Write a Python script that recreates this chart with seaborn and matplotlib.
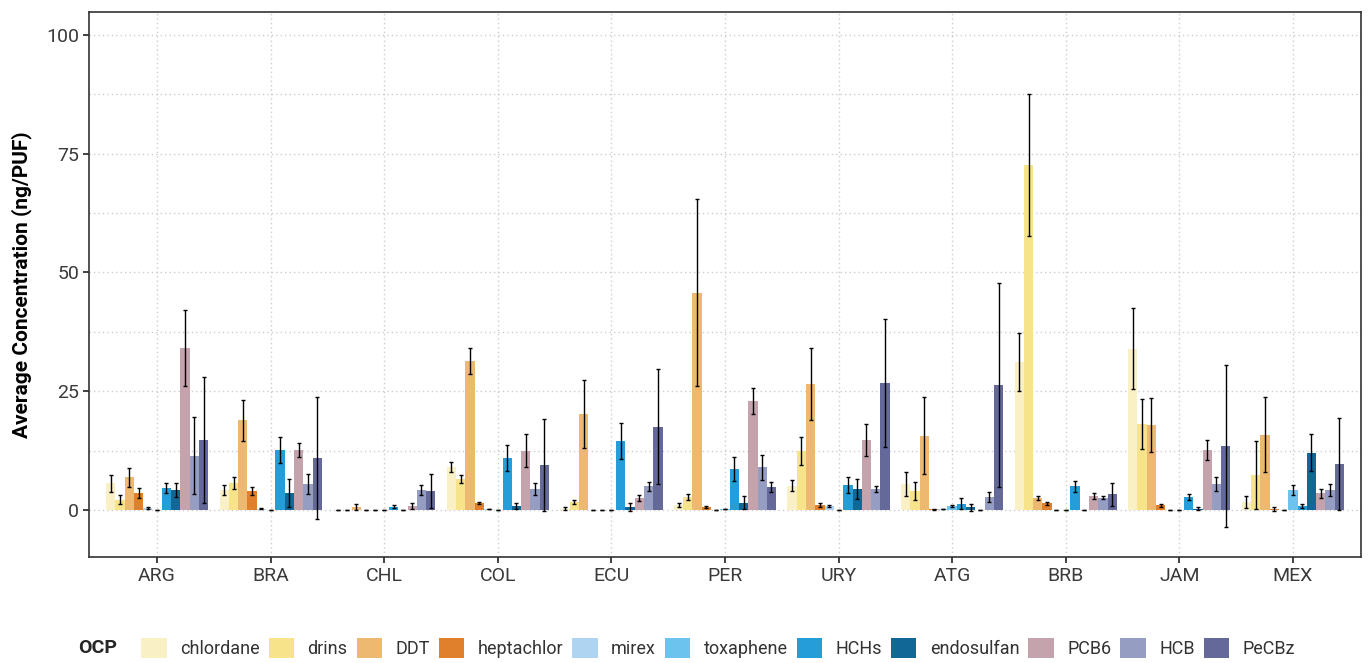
import numpy as np
import pandas as pd
import matplotlib
matplotlib.use("Agg")
import matplotlib.pyplot as plt
from matplotlib.ticker import MultipleLocator
import seaborn as sns

countries = ["ARG", "BRA", "CHL", "COL", "ECU", "PER", "URY", "ATG", "BRB", "JAM", "MEX"]
ocps = ["chlordane", "drins", "DDT", "heptachlor", "mirex", "toxaphene",
        "HCHs", "endosulfan", "PCB6", "HCB", "PeCBz"]
palette = ["#FAF0C6", "#F7E38A", "#EDB971", "#E0802C", "#AED4F1", "#6CC4EE",
           "#249DD9", "#116896", "#C4A3AD", "#959DC3", "#65699A"]

# mean concentration (ng/PUF), one list per OCP, in country order
chlordane  = [5.6, 4.2, 0.0, 9.0, 0.3, 1.0, 5.1, 5.5, 31.2, 33.9, 1.7]
drins      = [2.2, 5.7, 0.0, 6.5, 1.7, 2.7, 12.4, 4.0, 72.6, 18.1, 7.4]
ddt        = [6.9, 18.9, 0.6, 31.4, 20.2, 45.7, 26.5, 15.6, 2.5, 17.9, 15.8]
heptachlor = [3.6, 4.0, 0.0, 1.5, 0.0, 0.6, 1.0, 0.15, 1.4, 1.0, 0.15]
mirex      = [0.5, 0.3, 0.0, 0.1, 0.0, 0.0, 0.8, 0.1, 0.0, 0.0, 0.0]
toxaphene  = [0.0, 0.0, 0.0, 0.0, 0.0, 0.1, 0.0, 0.8, 0.0, 0.0, 4.2]
hchs       = [4.6, 12.6, 0.7, 10.9, 14.5, 8.6, 5.3, 1.3, 5.0, 2.7, 0.8]
endosulfan = [4.2, 3.6, 0.0, 0.8, 0.6, 1.5, 4.4, 0.6, 0.0, 0.3, 12.0]
pcb6       = [34.1, 12.6, 0.8, 12.5, 2.5, 22.9, 14.7, 0.0, 2.9, 12.6, 3.5]
hcb        = [11.4, 5.5, 4.2, 4.4, 5.0, 9.0, 4.4, 2.7, 2.6, 5.5, 4.2]
pecbz      = [14.7, 10.9, 4.0, 9.5, 17.5, 4.8, 26.7, 26.3, 3.3, 13.5, 9.7]

# error (± half-range of the error bar), same layout
chlordane_err  = [1.8, 1.0, 0.0, 1.0, 0.3, 0.4, 1.2, 2.5, 6.1, 8.5, 1.3]
drins_err      = [0.9, 1.3, 0.0, 0.8, 0.4, 0.7, 3.0, 1.9, 14.9, 5.2, 7.1]
ddt_err        = [2.0, 4.3, 0.6, 2.7, 7.1, 19.7, 7.6, 8.1, 0.5, 5.7, 7.9]
heptachlor_err = [1.0, 0.9, 0.0, 0.25, 0.0, 0.17, 0.37, 0.1, 0.38, 0.28, 0.37]
mirex_err      = [0.2, 0.1, 0.0, 0.0, 0.0, 0.0, 0.22, 0.0, 0.0, 0.0, 0.0]
toxaphene_err  = [0.0, 0.0, 0.0, 0.0, 0.0, 0.0, 0.0, 0.25, 0.0, 0.0, 0.95]
hchs_err       = [1.0, 2.7, 0.25, 2.7, 3.8, 2.5, 1.7, 1.2, 1.2, 0.7, 0.4]
endosulfan_err = [1.5, 3.0, 0.0, 0.7, 0.8, 1.35, 2.1, 0.75, 0.0, 0.4, 3.9]
pcb6_err       = [8.0, 1.5, 0.7, 3.4, 0.55, 2.7, 3.4, 0.0, 0.6, 2.1, 1.0]
hcb_err        = [8.1, 2.1, 1.15, 1.2, 0.95, 2.65, 0.7, 1.0, 0.3, 1.5, 1.35]
pecbz_err      = [13.2, 12.8, 3.6, 9.7, 12.1, 1.1, 13.5, 21.5, 2.4, 17.0, 9.7]

means = [chlordane, drins, ddt, heptachlor, mirex, toxaphene, hchs, endosulfan, pcb6, hcb, pecbz]
errs = [chlordane_err, drins_err, ddt_err, heptachlor_err, mirex_err, toxaphene_err,
        hchs_err, endosulfan_err, pcb6_err, hcb_err, pecbz_err]

rows = []
for name, m, e in zip(ocps, means, errs):
    for c, v, s in zip(countries, m, e):
        rows.append({"country": c, "OCP": name, "conc": v, "err": s})
df = pd.DataFrame(rows)

sns.set_theme(style="white")
plt.rcParams["font.family"] = ["Roboto", "DejaVu Sans"]

fig = plt.figure(figsize=(13.71, 6.63), dpi=100)
ax = fig.add_axes([89 / 1371, 1 - 557 / 663, (1361 - 89) / 1371, (557 - 12) / 663])

sns.barplot(data=df, x="country", y="conc", hue="OCP", order=countries,
            hue_order=ocps, palette=palette, width=0.9, gap=0,
            errorbar=None, saturation=1, linewidth=0, ax=ax, zorder=2)

# error bars placed at the centres of the drawn bars
for container, name in zip(ax.containers, ocps):
    sub = df[df["OCP"] == name].set_index("country").loc[countries]
    xs = [p.get_x() + p.get_width() / 2 for p in container.patches]
    ax.errorbar(xs, sub["conc"].values, yerr=sub["err"].values, fmt="none",
                ecolor="black", elinewidth=1.0, capsize=1.7, capthick=1.0, zorder=3)

ax.set_xlim(-0.6, 10.6)
ax.set_ylim(-9.9, 104.8)
ax.yaxis.set_major_locator(MultipleLocator(25))
ax.yaxis.set_minor_locator(MultipleLocator(12.5))

grid_kw = dict(color="#CCCCCC", linestyle=(0, (1, 2.2)), linewidth=1.0)
ax.grid(True, which="major", axis="both", **grid_kw)
ax.grid(True, which="minor", axis="y", **grid_kw)
ax.set_axisbelow(True)

for sp in ax.spines.values():
    sp.set_color("#333333")
    sp.set_linewidth(1.2)

ax.tick_params(axis="both", which="major", direction="out", length=4, width=1.3,
               color="#333333", labelcolor="#3A3A3A", labelsize=14, pad=3,
               left=True, bottom=True)
ax.tick_params(axis="y", which="minor", length=0)
ax.set_xlabel("")
ax.set_ylabel("Average Concentration (ng/PUF)", fontsize=15, fontweight="bold",
              color="black", labelpad=10)

handles, labels = ax.get_legend_handles_labels()
ax.get_legend().remove()
ly = 1 - 648 / 663
fig.text(78 / 1371, ly, "OCP", fontsize=14, fontweight="bold", va="center", ha="left")
fig.legend(handles, labels, loc="center left", bbox_to_anchor=(134 / 1371, ly),
           ncol=11, frameon=False, fontsize=13, handlelength=1.4, handleheight=1.4,
           handletextpad=0.75, columnspacing=0.5, borderaxespad=0, borderpad=0.4,
           labelcolor="#333333")

fig.savefig("out.png", dpi=100)
